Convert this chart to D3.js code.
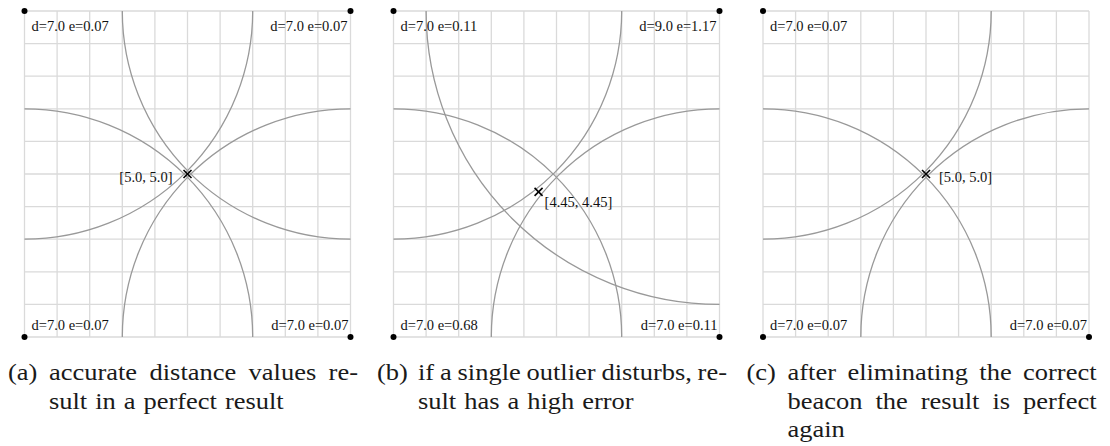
<!DOCTYPE html>
<html>
<head>
<meta charset="utf-8">
<script src="https://cdn.jsdelivr.net/npm/d3@7"></script>
<style>
  body { margin: 0; background: #fff; }
  svg { display: block; }
  .grid line { stroke: #dadada; stroke-width: 1.3; }
  .range { fill: none; stroke: #999; stroke-width: 1.3; }
  .beacon { fill: #000; }
  .result line { stroke: #000; stroke-width: 1.6; }
</style>
</head>
<body>
<div id="chart"></div>
<script>
// beacon positions (grid units) - same in every panel
var beaconX = [0, 10, 0, 10];
var beaconY = [10, 10, 0, 0];

// measured distances and errors per panel (null = beacon eliminated)
var distA = [7.0, 7.0, 7.0, 7.0];
var errA = [0.07, 0.07, 0.07, 0.07];
var distB = [7.0, 9.0, 7.0, 7.0];
var errB = [0.11, 1.17, 0.68, 0.11];
var distC = [7.0, null, 7.0, 7.0];
var errC = [0.07, null, 0.07, 0.07];

// estimated positions
var resultX = [5.0, 4.45, 5.0];
var resultY = [5.0, 4.45, 5.0];
var resultText = ["[5.0, 5.0]", "[4.45, 4.45]", "[5.0, 5.0]"];

var gridTicks = d3.range(0, 11);

var captionTags = ["(a)", "(b)", "(c)"];
var captionTexts = [
  "accurate distance values re-|sult in a perfect result",
  "if a single outlier disturbs, re-|sult has a high error",
  "after eliminating the correct|beacon the result is perfect|again"
];

var panels = [
  {dist: distA, err: errA},
  {dist: distB, err: errB},
  {dist: distC, err: errC}
];

var W = 1110, H = 446;
var size = 326;
var panelTop = 11;
var panelLeft = [24.5, 393.5, 763];
var serif = "'Liberation Serif', 'Times New Roman', serif";
// where the result label sits relative to the marker
var resultLabel = [
  {dx: -15, dy: 8, anchor: "end"},
  {dx: 6, dy: 15, anchor: "start"},
  {dx: 13, dy: 8, anchor: "start"}
];
// beacon label offsets: tl, tr, bl, br
var beaconLabel = [
  {dx: 7, dy: 20, anchor: "start"},
  {dx: -3, dy: 20, anchor: "end"},
  {dx: 7, dy: -7, anchor: "start"},
  {dx: -2, dy: -7, anchor: "end"}
];

var svg = d3.select("#chart").append("svg")
  .attr("width", W)
  .attr("height", H);

var defs = svg.append("defs");

panels.forEach(function (p, k) {
  var x = d3.scaleLinear().domain([0, 10]).range([0, size]);
  var y = d3.scaleLinear().domain([0, 10]).range([size, 0]);

  var g = svg.append("g")
    .attr("transform", "translate(" + [panelLeft[k], panelTop] + ")");

  defs.append("clipPath").attr("id", "clip" + k)
    .append("rect").attr("width", size).attr("height", size);

  var grid = g.append("g").attr("class", "grid");
  grid.selectAll("line.v").data(gridTicks).enter().append("line")
    .attr("class", "v")
    .attr("x1", d => x(d)).attr("x2", d => x(d))
    .attr("y1", 0).attr("y2", size);
  grid.selectAll("line.h").data(gridTicks).enter().append("line")
    .attr("class", "h")
    .attr("y1", d => y(d)).attr("y2", d => y(d))
    .attr("x1", 0).attr("x2", size);

  var beacons = beaconX.map(function (bx, i) {
    return {i: i, x: bx, y: beaconY[i], d: p.dist[i], e: p.err[i]};
  }).filter(d => d.d !== null);

  g.append("g").attr("clip-path", "url(#clip" + k + ")")
    .selectAll("circle").data(beacons).enter().append("circle")
    .attr("class", "range")
    .attr("cx", d => x(d.x))
    .attr("cy", d => y(d.y))
    .attr("r", d => x(d.d) - x(0));

  g.selectAll("circle.beacon").data(beacons).enter().append("circle")
    .attr("class", "beacon")
    .attr("cx", d => x(d.x))
    .attr("cy", d => y(d.y))
    .attr("r", 3);

  g.selectAll("text.blabel").data(beacons).enter().append("text")
    .attr("class", "blabel")
    .style("font-family", serif)
    .style("font-size", "14.5px")
    .style("fill", "#111")
    .attr("x", d => x(d.x) + beaconLabel[d.i].dx)
    .attr("y", d => y(d.y) + beaconLabel[d.i].dy)
    .attr("text-anchor", d => beaconLabel[d.i].anchor)
    .text(d => "d=" + d.d.toFixed(1) + " e=" + d.e.toFixed(2));

  // result marker
  var rx = x(resultX[k]), ry = y(resultY[k]), m = 4;
  var res = g.append("g").attr("class", "result");
  res.append("line").attr("x1", rx - m).attr("y1", ry - m).attr("x2", rx + m).attr("y2", ry + m);
  res.append("line").attr("x1", rx - m).attr("y1", ry + m).attr("x2", rx + m).attr("y2", ry - m);
  res.append("text")
    .style("font-family", serif)
    .style("font-size", "14.5px")
    .style("fill", "#111")
    .attr("x", rx + resultLabel[k].dx)
    .attr("y", ry + resultLabel[k].dy)
    .attr("text-anchor", resultLabel[k].anchor)
    .text(resultText[k]);

  // caption, justified with hanging indent; glyphs widened a bit to
  // mimic the wide latex font
  var stretch = 1.15;
  var cx0 = panelLeft[k] - 16.5;
  var indent = 41, capW = 350, lineH = 28.5, base = 380;
  var cap = svg.append("g")
    .style("font-family", serif)
    .style("font-size", "23px")
    .style("fill", "#1a1a1a");
  var tag = cap.append("text").attr("x", cx0).attr("y", base).text(captionTags[k]);
  tag.attr("textLength", tag.node().getComputedTextLength() * stretch)
    .attr("lengthAdjust", "spacingAndGlyphs");
  var lines = captionTexts[k].split("|");
  lines.forEach(function (ln, li) {
    var words = ln.split(" ");
    var ws = words.map(function (w) {
      return cap.append("text").attr("y", base + li * lineH).text(w);
    });
    var widths = ws.map(t => t.node().getComputedTextLength() * stretch);
    ws.forEach(function (t, wi) {
      t.attr("textLength", widths[wi]).attr("lengthAdjust", "spacingAndGlyphs");
    });
    var total = d3.sum(widths);
    var left = cx0 + indent, avail = capW - indent;
    var gap = li < lines.length - 1 && words.length > 1 ?
      (avail - total) / (words.length - 1) : 8;
    var pos = left;
    ws.forEach(function (t, wi) {
      t.attr("x", pos);
      pos += widths[wi] + gap;
    });
  });
});
</script>
</body>
</html>
